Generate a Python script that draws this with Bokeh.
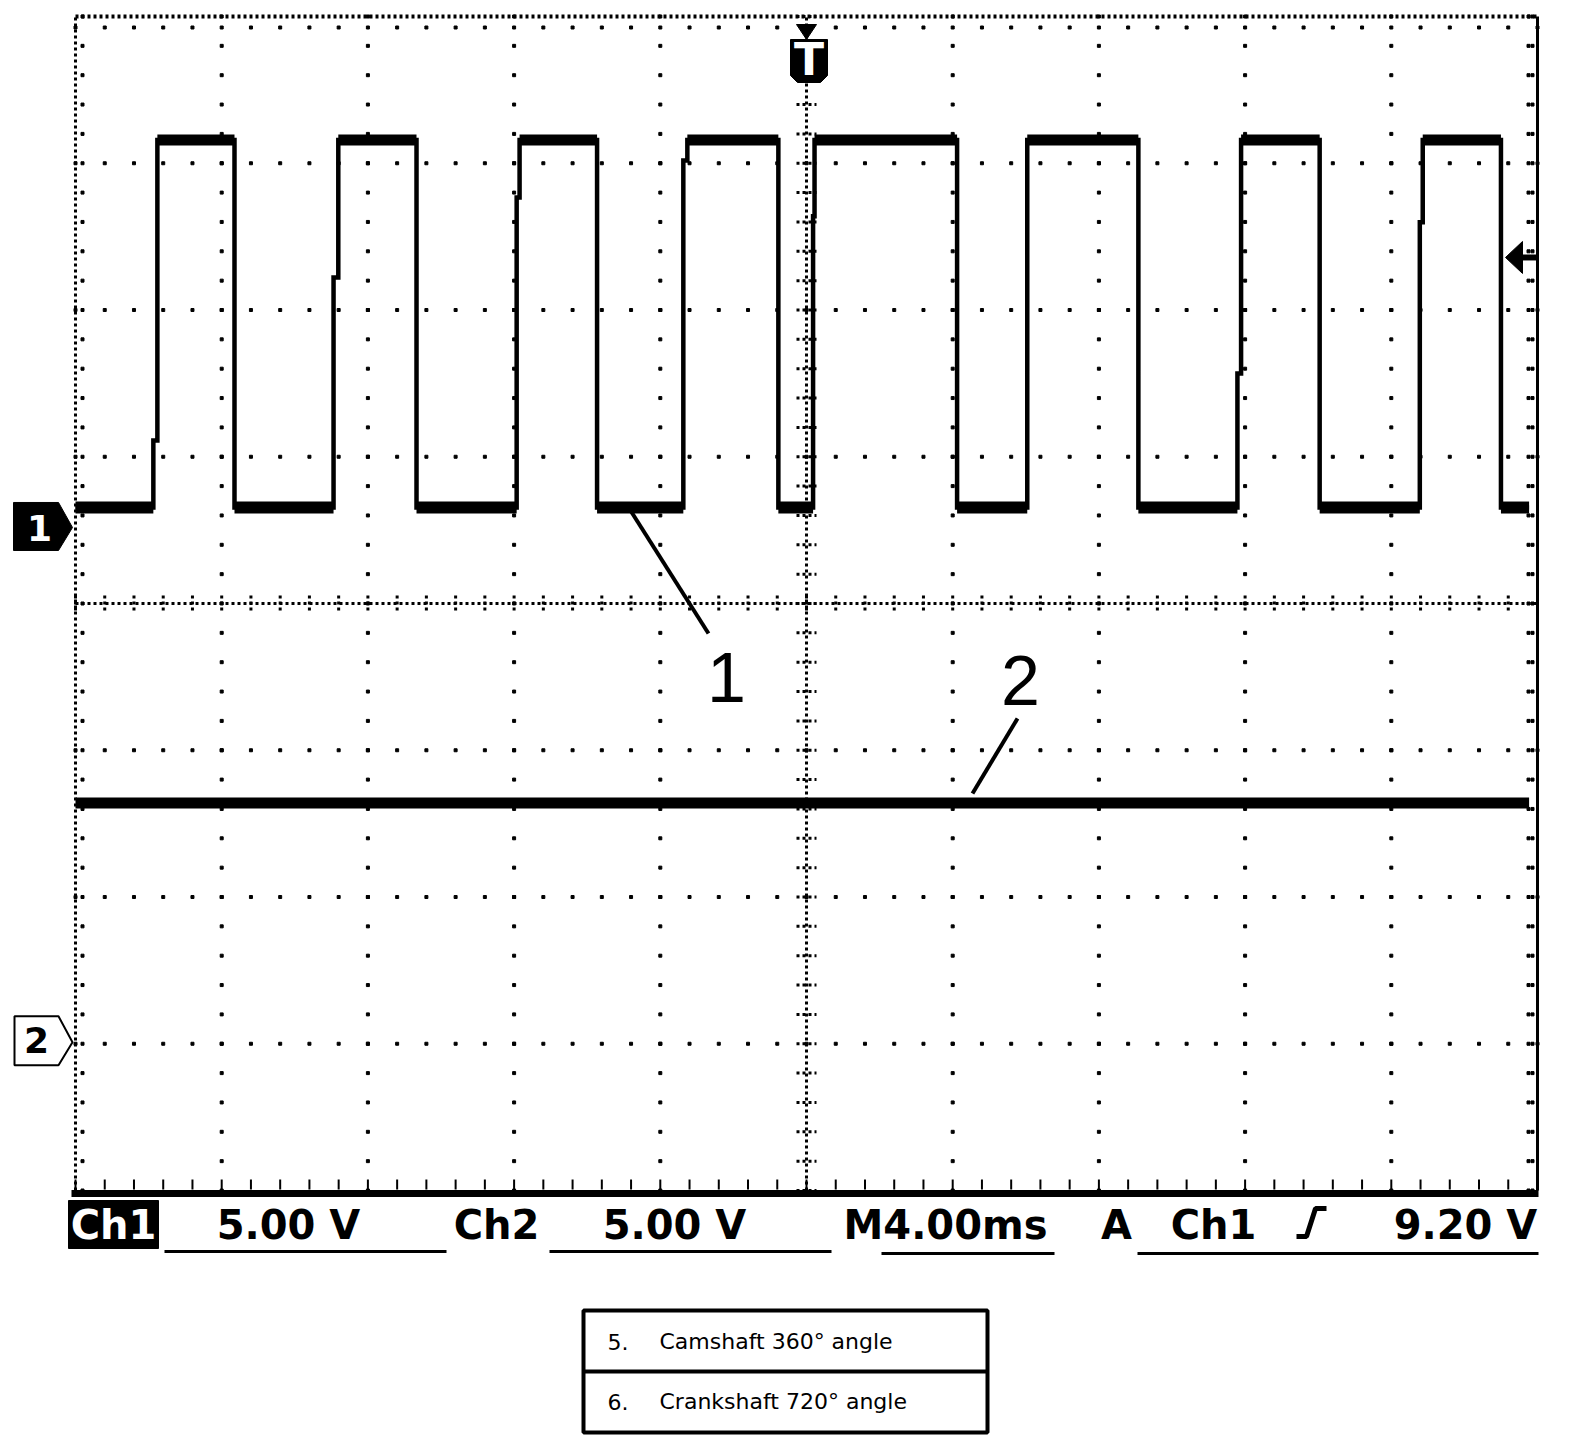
import numpy as np
from bokeh.plotting import figure
from bokeh.core.properties import value
from bokeh.embed import file_html
from bokeh.resources import INLINE

# ---------------- data ----------------
ms_per_div = 4.0
ch1_volts_per_div = 5.0
ch2_volts_per_div = 5.0
trigger_level_v = 9.20
ch1_ground_div = 0.518      # channel-1 reference marker position (divisions from centre)
ch2_ground_div = -2.99      # channel-2 reference marker position

# channel 1 (square wave): rising edge start, intermediate step level, rising edge end, falling edge
ch1_rise_start_ms = [2.13, 7.06, 12.07, 16.63, 20.18, 26.04, 31.79, 36.78]
ch1_rise_step_v = [2.96, 8.52, 11.24, 12.5, 10.6, 13.2, 5.25, 10.4]
ch1_rise_end_ms = [2.24, 7.19, 12.15, 16.74, 20.22, 26.04, 31.89, 36.86]
ch1_fall_ms = [4.35, 9.33, 14.27, 19.23, 24.12, 29.08, 34.04, 39.00]
ch1_low_v = 0.68
ch1_high_v = 13.2
ch1_start_ms, ch1_end_ms = 0.0, 39.77

# channel 2 (flat)
ch2_level_v = 8.15
ch2_start_ms, ch2_end_ms = 0.0, 39.77

n_div_x = 10
n_div_y = 8
annotation_labels = ["1", "2"]
table_numbers = ["5.", "6."]
table_texts = ["Camshaft 360° angle", "Crankshaft 720° angle"]

# ---------------- layout (pixel geometry of the page) ----------------
W, H = 1584, 1454
MARGIN = 0
GX0, GX1 = 75.0, 1537.0
GY0, GY1 = 16.0, 1190.0
PXX = (GX1 - GX0) / n_div_x
PXY = (GY1 - GY0) / n_div_y
GYC = (GY0 + GY1) / 2


def X(px):
    return (px - GX0) / PXX * ms_per_div


def Y(py):
    return (GYC - py) / PXY


p = figure(width=W, height=H, x_range=(X(MARGIN), X(MARGIN + W)),
           y_range=(Y(MARGIN + H), Y(MARGIN)), output_backend="svg",
           toolbar_location=None, min_border=0, x_axis_type=None, y_axis_type=None)
p.outline_line_color = None
p.grid.visible = False
p.background_fill_color = "white"
p.border_fill_color = "white"

BLK = "black"
xmax = n_div_x * ms_per_div
ymax = n_div_y / 2

# ---------------- graticule ----------------
sub_x = ms_per_div / 5
sub_y = 1 / 5
dx, dy = [], []
for i in range(1, n_div_x):
    if i == n_div_x // 2:
        continue
    for j in range(-20, 21):
        dx.append(i * ms_per_div)
        dy.append(j * sub_y)
for k in range(-3, 4):
    if k == 0:
        continue
    for j in range(0, 51):
        dx.append(j * sub_x)
        dy.append(k)
p.scatter(dx, dy, marker="square", size=3, color=BLK)

# centre lines (dense dots) + cross ticks
p.line([xmax / 2, xmax / 2], [-ymax, ymax], line_color=BLK, line_width=3, line_dash="3 3")
p.line([0, xmax], [0, 0], line_color=BLK, line_width=3, line_dash="3 3")
cy = [j * sub_y for j in range(-20, 21)]
p.segment(x0=[X(GX0 + PXX * 5 - 10)] * len(cy), y0=cy, x1=[X(GX0 + PXX * 5 + 10)] * len(cy), y1=cy,
          line_color=BLK, line_width=3, line_dash="3 3")
cx = [j * sub_x for j in range(0, 51)]
p.segment(x0=cx, y0=[Y(GYC - 8)] * len(cx), x1=cx, y1=[Y(GYC + 8)] * len(cx),
          line_color=BLK, line_width=3, line_dash="3 3")

# frame edges
p.line([0, 0], [-ymax, ymax], line_color=BLK, line_width=3, line_dash="3 3")
p.line([0, xmax], [ymax, ymax], line_color=BLK, line_width=4, line_dash="3 3")
p.line([xmax, xmax], [-ymax, ymax], line_color=BLK, line_width=3)
p.line([X(71), X(1538)], [Y(1193), Y(1193)], line_color=BLK, line_width=7)
# edge ticks
p.scatter([X(82)] * len(cy), cy, marker="square", size=3, color=BLK)
p.scatter([X(1528)] * len(cy), cy, marker="square", size=3, color=BLK)
p.scatter([X(1532)] * len(cy), cy, marker="square", size=3, color=BLK)
p.scatter(cx, [Y(27)] * len(cx), marker="square", size=3, color=BLK)
p.segment(x0=cx, y0=[Y(1179)] * len(cx), x1=cx, y1=[Y(1189)] * len(cx), line_color=BLK, line_width=2)

# ---------------- channel 1 trace ----------------
t = [ch1_start_ms]
v = [ch1_low_v]
for rs, sv, re_, f in zip(ch1_rise_start_ms, ch1_rise_step_v, ch1_rise_end_ms, ch1_fall_ms):
    t += [rs, rs, re_, re_, f, f]
    v += [ch1_low_v, sv, sv, ch1_high_v, ch1_high_v, ch1_low_v]
t.append(ch1_end_ms)
v.append(ch1_low_v)
y1 = [ch1_ground_div + vv / ch1_volts_per_div for vv in v]
p.line(t, y1, line_color=BLK, line_width=4.5, line_join="miter")

low_y = ch1_ground_div + ch1_low_v / ch1_volts_per_div
high_y = ch1_ground_div + ch1_high_v / ch1_volts_per_div
low_x0 = [ch1_start_ms] + ch1_fall_ms
low_x1 = ch1_rise_start_ms + [ch1_end_ms]
p.segment(x0=low_x0, y0=[low_y] * len(low_x0), x1=low_x1, y1=[low_y] * len(low_x1),
          line_color=BLK, line_width=12)
p.segment(x0=ch1_rise_end_ms, y0=[high_y] * len(ch1_fall_ms), x1=ch1_fall_ms, y1=[high_y] * len(ch1_fall_ms),
          line_color=BLK, line_width=11)

# ---------------- channel 2 trace ----------------
ch2_y = ch2_ground_div + ch2_level_v / ch2_volts_per_div
p.line([ch2_start_ms, ch2_end_ms], [ch2_y, ch2_y], line_color=BLK, line_width=11)

# ---------------- markers ----------------
def pent(x0, x1, xt, ytop, ybot, ytip):
    return [X(x0), X(x1), X(xt), X(x1), X(x0)], [Y(ytop), Y(ytop), Y(ytip), Y(ybot), Y(ybot)]

# ch1 reference marker
g1_py = GYC - ch1_ground_div * PXY
xs, ys = pent(13, 58, 72, g1_py - 25, g1_py + 23, g1_py)
p.patch(xs, ys, fill_color=BLK, line_color=BLK)
p.text([X(39)], [Y(g1_py + 1)], text=["1"], text_color="white", text_font=value("DejaVu Sans"),
       text_font_style="bold", text_font_size=value("36px"), text_align="center", text_baseline="middle")
# ch2 reference marker
g2_py = GYC - ch2_ground_div * PXY
xs, ys = pent(14, 58, 72, g2_py - 26, g2_py + 23, g2_py)
p.patch(xs, ys, fill_color=None, line_color=BLK, line_width=2)
p.text([X(36)], [Y(g2_py - 2)], text=["2"], text_color=BLK, text_font=value("DejaVu Sans"),
       text_font_style="bold", text_font_size=value("36px"), text_align="center", text_baseline="middle")

# trigger position marker (top)
tx = GX0 + PXX * n_div_x / 2
p.patch([X(tx - 10), X(tx + 10), X(tx)], [Y(24), Y(24), Y(39)], fill_color=BLK, line_color=BLK)
p.patch([X(tx - 16), X(tx + 21), X(tx + 21), X(tx + 14), X(tx - 9), X(tx - 16)],
        [Y(39), Y(39), Y(75), Y(82), Y(82), Y(75)], fill_color=BLK, line_color=BLK)
p.text([X(tx + 2.5)], [Y(59)], text=["T"], text_color="white", text_font=value("DejaVu Sans"),
       text_font_style="bold", text_font_size=value("44px"), text_align="center", text_baseline="middle")

# trigger level arrow (right)
ty = ch1_ground_div + trigger_level_v / ch1_volts_per_div
typ = GYC - ty * PXY
p.patch([X(1505), X(1522), X(1522)], [ty, Y(typ - 16), Y(typ + 16)], fill_color=BLK, line_color=BLK)
p.line([X(1520), X(GX1)], [ty, ty], line_color=BLK, line_width=6)

# ---------------- annotations ----------------
p.line([X(630), X(708)], [Y(510), Y(633)], line_color=BLK, line_width=4)
p.line([X(1017), X(972)], [Y(718), Y(793)], line_color=BLK, line_width=4)
p.text([X(726), X(1020)], [Y(677), Y(680)], text=annotation_labels, text_color=BLK,
       text_font=value("Liberation Sans"), text_font_size=value("70px"),
       text_align="center", text_baseline="middle")

# ---------------- status bar ----------------
p.quad(left=[X(68)], right=[X(158)], top=[Y(1200)], bottom=[Y(1248)], fill_color=BLK, line_color=BLK)
status_text = ["Ch1", f"{ch1_volts_per_div:.2f} V", "Ch2", f"{ch2_volts_per_div:.2f} V",
               f"M{ms_per_div:.2f}ms", "A", "Ch1", f"{trigger_level_v:.2f} V"]
status_cx = [113, 288, 496, 674, 945, 1116, 1213, 1465]
status_col = ["white"] + [BLK] * 7
p.text([X(c) for c in status_cx], [Y(1224)] * len(status_cx), text=status_text, text_color=status_col,
       text_font=value("DejaVu Sans"), text_font_style="bold", text_font_size=value("40px"),
       text_align="center", text_baseline="middle")
ul = [(164, 446, 1251), (549, 831, 1251), (881, 1054, 1253), (1137, 1538, 1253)]
p.segment(x0=[X(a) for a, b, c in ul], y0=[Y(c) for a, b, c in ul],
          x1=[X(b) for a, b, c in ul], y1=[Y(c) for a, b, c in ul], line_color=BLK, line_width=3)
p.line([X(1296), X(1306), X(1315), X(1326)], [Y(1236), Y(1236), Y(1208), Y(1208)],
       line_color=BLK, line_width=5)

# ---------------- legend table ----------------
p.quad(left=[X(583)], right=[X(987)], top=[Y(1310)], bottom=[Y(1432)], fill_color=None,
       line_color=BLK, line_width=4)
p.line([X(583), X(987)], [Y(1371), Y(1371)], line_color=BLK, line_width=4)
p.text([X(607)] * 2, [Y(1341), Y(1401)], text=table_numbers, text_color=BLK,
       text_font=value("DejaVu Sans"), text_font_size=value("22px"), text_baseline="middle")
p.text([X(659)] * 2, [Y(1341), Y(1401)], text=table_texts, text_color=BLK,
       text_font=value("DejaVu Sans"), text_font_size=value("22px"), text_baseline="middle")

open("out.html", "w").write(file_html(p, INLINE))
